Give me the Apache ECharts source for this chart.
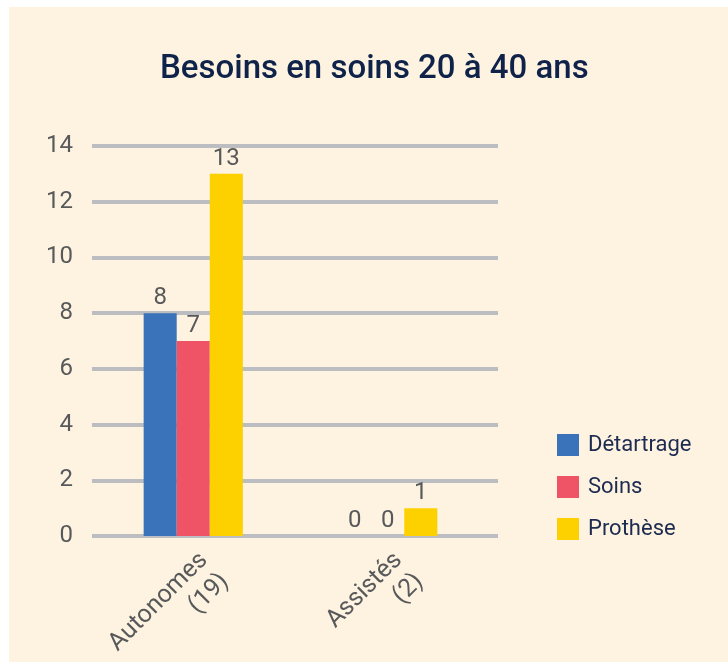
<!DOCTYPE html>
<html>
<head>
<meta charset="utf-8">
<script src="https://cdn.jsdelivr.net/npm/echarts@6/dist/echarts.min.js"></script>
<style>
  html, body { margin: 0; padding: 0; background: #ffffff; }
  #chart { position: absolute; left: 0; top: 0; width: 728px; height: 662px; }
</style>
</head>
<body>
<div id="chart"></div>
<script>
var categories = ['Autonomes\n(19)', 'Assistés\n(2)'];
var seriesNames = ['Détartrage', 'Soins', 'Prothèse'];
var detartrage = [8, 0];
var soins = [7, 0];
var prothese = [13, 1];
var yTicks = [0, 2, 4, 6, 8, 10, 12, 14];

var colors = ['#3a73b9', '#ef5366', '#fdd000'];
var grey = '#58595b';

var chart = echarts.init(document.getElementById('chart'));

function barSeries(name, data, color) {
    return {
        name: name,
        type: 'bar',
        xAxisIndex: 1,
        yAxisIndex: 1,
        data: data,
        barWidth: '17%',
        barGap: '0%',
        itemStyle: { color: color },
        label: {
            show: true,
            position: 'top',
            distance: 3,
            color: grey,
            fontSize: 24,
            fontFamily: 'Roboto'
        }
    };
}

chart.setOption({
    backgroundColor: '#ffffff',
    title: {
        text: 'Besoins en soins 20 à 40 ans',
        left: 155,
        top: 48,
        textStyle: {
            color: '#0f2249',
            fontSize: 33,
            fontWeight: 500,
            fontFamily: 'Roboto'
        }
    },
    graphic: [{
        type: 'rect',
        z: -10,
        shape: { x: 9, y: 7, width: 719, height: 655 },
        style: { fill: '#fef3e1' }
    }],
    legend: {
        orient: 'vertical',
        left: 552,
        top: 429,
        itemWidth: 22,
        itemHeight: 22,
        itemGap: 20,
        icon: 'rect',
        data: seriesNames,
        textStyle: { color: '#1c2b4f', fontSize: 22, fontFamily: 'Roboto', padding: [0, 0, 0, 4] }
    },
    grid: [
        { left: 92, right: 230, top: 146, bottom: 126, outerBoundsMode: 'none' },
        { left: 96, right: 243, top: 146, bottom: 126, outerBoundsMode: 'none' }
    ],
    xAxis: [
        {
            type: 'category',
            gridIndex: 0,
            data: categories,
            axisLine: { show: false },
            axisTick: { show: false },
            axisLabel: { show: false }
        },
        {
            type: 'category',
            gridIndex: 1,
            data: categories,
            axisLine: { show: false },
            axisTick: { show: false },
            axisLabel: {
                rotate: 45,
                align: 'right',
                verticalAlign: 'top',
                margin: 10,
                color: grey,
                fontSize: 25,
                lineHeight: 30,
                fontFamily: 'Roboto'
            }
        }
    ],
    yAxis: [
        {
            type: 'value',
            gridIndex: 0,
            min: yTicks[0],
            max: yTicks[yTicks.length - 1],
            interval: 2,
            axisLine: { show: false },
            axisTick: { show: false },
            axisLabel: { color: grey, fontSize: 24, margin: 19, fontFamily: 'Roboto' },
            splitLine: { lineStyle: { color: '#bcbdc1', width: 4 } }
        },
        {
            type: 'value',
            gridIndex: 1,
            min: yTicks[0],
            max: yTicks[yTicks.length - 1],
            interval: 2,
            axisLine: { show: false },
            axisTick: { show: false },
            axisLabel: { show: false },
            splitLine: { show: false }
        }
    ],
    series: [
        barSeries(seriesNames[0], detartrage, colors[0]),
        barSeries(seriesNames[1], soins, colors[1]),
        barSeries(seriesNames[2], prothese, colors[2])
    ]
});
</script>
</body>
</html>
